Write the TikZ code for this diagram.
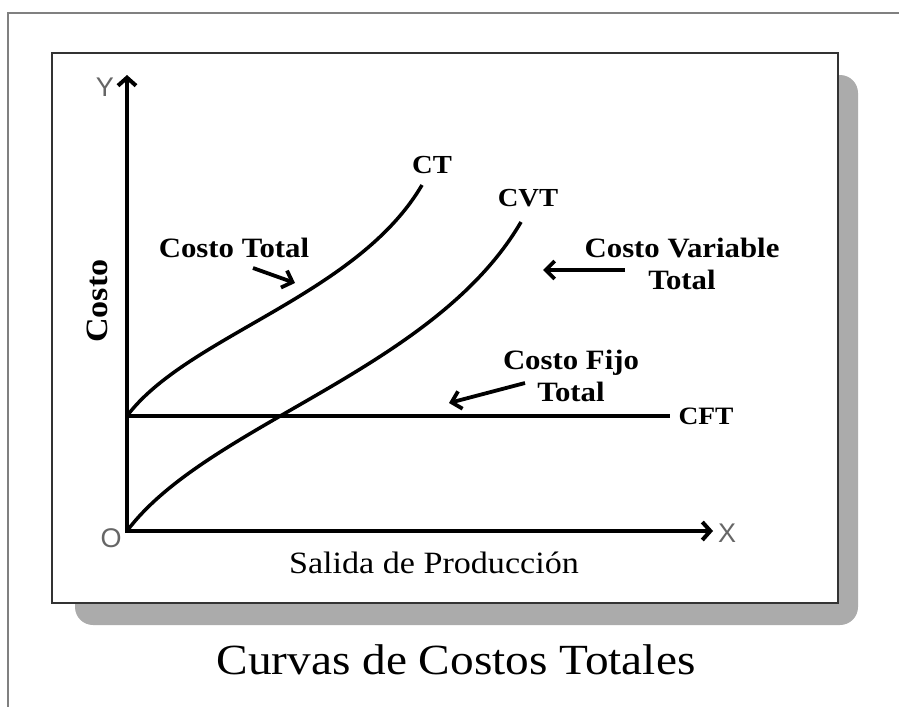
\documentclass[tikz,border=0pt]{standalone}
\usepackage{fontspec}
\setmainfont[FakeStretch=1.1]{Liberation Serif}
\newfontfamily\axisfont{Liberation Sans}
\usetikzlibrary{arrows.meta}
\begin{document}
\begin{tikzpicture}[x=1pt,y=-1pt,
  lbl/.style={font=\fontsize{28}{32}\selectfont\bfseries, inner sep=0pt, align=center},
  axlbl/.style={font=\axisfont\fontsize{27}{30}\selectfont, text=black!60, inner sep=0pt},
  curve/.style={line width=3.5pt},
  axis/.style={line width=4pt, {Straight Barb[length=8pt,width=18pt]}-{Straight Barb[length=8pt,width=18pt]}},
  ptr/.style={line width=3.8pt, -{Straight Barb[length=9pt,width=18pt]}}]
\useasboundingbox (0,0) rectangle (899,707);
% outer frame (top and left only)
\draw[black!50, line width=1.8pt] (899,13) -- (8,13) -- (8,707);
% shadow and inner box
\fill[black!33, rounded corners=18pt] (75,75) rectangle (858,625);
\draw[line width=2.5pt, draw=black!80, fill=white] (52,53) rectangle (838,603);
% coordinates
\coordinate (O) at (127,531);
\coordinate (Ytip) at (127,75);
\coordinate (Xtip) at (713,531);
\coordinate (F0) at (127,416);
\coordinate (F1) at (670,416);
\coordinate (CTend) at (422,185);
\coordinate (CVTend) at (521,222);
% axes
\draw[axis] (Ytip) -- (O) -- (Xtip);
% curves
\draw[curve] (F0) -- (F1);
\draw[curve] (F0) .. controls (187,336) and (357,296) .. (CTend);
\draw[curve] (O) .. controls (207,424) and (434,371) .. (CVTend);
% axis labels
\node[axlbl] (ylab) at (105,87) {Y};
\node[axlbl] (xlab) at (727,533) {X};
\node[axlbl] (olab) at (111,538) {O};
\node[lbl, font=\fontsize{31}{32}\selectfont\bfseries, rotate=90] (costo) at (97,301) {Costo};
\node[lbl, font=\fontsize{31}{32}\selectfont] (salida) at (434,563) {Salida de Producción};
\node[lbl, font=\fontsize{43}{46}\selectfont] (title) at (456,660) {Curvas de Costos Totales};
% curve labels
\node[lbl, font=\fontsize{26}{30}\selectfont\bfseries] (ct) at (432,165) {CT};
\node[lbl, font=\fontsize{26}{30}\selectfont\bfseries] (cvt) at (528,198) {CVT};
\node[lbl, font=\fontsize{25}{30}\selectfont\bfseries] (cft) at (706,416) {CFT};
% descriptive labels and pointers
\node[lbl] (costototal) at (234,248) {Costo Total};
\coordinate (a1s) at (253,268);
\coordinate (a1e) at (295,283);
\draw[ptr] (a1s) -- (a1e);
\node[lbl] (cvtlab) at (682,264) {Costo Variable\\Total};
\coordinate (a2s) at (625,270);
\coordinate (a2e) at (543,270);
\draw[ptr] (a2s) -- (a2e);
\node[lbl] (cftlab) at (571,376) {Costo Fijo\\Total};
\coordinate (a3s) at (525,383);
\coordinate (a3e) at (449,403);
\draw[ptr] (a3s) -- (a3e);
\end{tikzpicture}
\end{document}
